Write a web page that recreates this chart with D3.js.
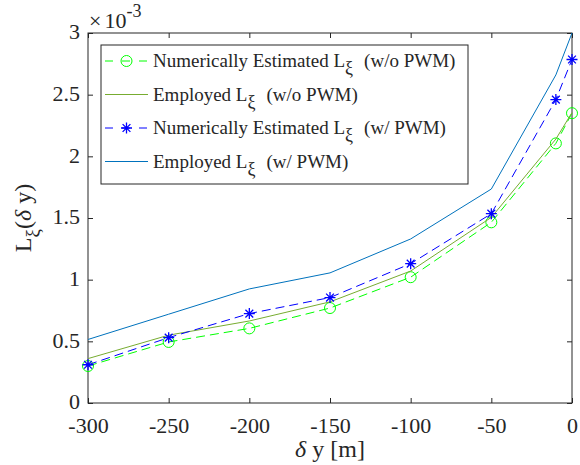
<!DOCTYPE html>
<html>
<head>
<meta charset="utf-8">
<script src="https://cdn.jsdelivr.net/npm/d3@7"></script>
<style>
  body { margin: 0; background: #fff; }
  svg { display: block; font-family: "Liberation Serif", "Times New Roman", serif; }
</style>
</head>
<body>
<svg id="chart" width="580" height="465"></svg>
<script>
// Offset values (m)
const deltaY = [-300, -250, -200, -150, -100, -50, -10, 0];
// L_xi values, in units of 1e-3
const estNoPwm  = [0.30, 0.495, 0.605, 0.77, 1.02, 1.465, 2.105, 2.35];
const empNoPwm  = [0.36, 0.55, 0.665, 0.82, 1.07, 1.505, 2.14, 2.355];
const estPwm    = [0.31, 0.53, 0.725, 0.855, 1.13, 1.535, 2.46, 2.785];
const empPwm    = [0.515, 0.72, 0.925, 1.055, 1.33, 1.735, 2.66, 3.0];
const xTicks = [-300, -250, -200, -150, -100, -50, 0];
const yTicks = [0, 0.5, 1, 1.5, 2, 2.5, 3];

const seriesNames = [
  ["Numerically Estimated L", "(w/o PWM)"],
  ["Employed L", "(w/o PWM)"],
  ["Numerically Estimated L", "(w/ PWM)"],
  ["Employed L", "(w/ PWM)"]
];

const svg = d3.select("#chart");
const m = { left: 88, right: 572, top: 33, bottom: 403 };
const x = d3.scaleLinear().domain([-300, 0]).range([m.left, m.right]);
const y = d3.scaleLinear().domain([0, 3]).range([m.bottom, m.top]);

const axisColor = "#262626";
const tickFont = 22;

// Frame box
svg.append("rect")
  .attr("x", m.left).attr("y", m.top)
  .attr("width", m.right - m.left).attr("height", m.bottom - m.top)
  .attr("fill", "none").attr("stroke", axisColor).attr("stroke-width", 1);

// Axes with inward ticks on all four sides
function styleAxis(g) {
  g.select(".domain").remove();
  g.selectAll(".tick line").attr("stroke", axisColor);
  g.selectAll(".tick text").attr("fill", axisColor)
    .style("font-family", "Liberation Serif").style("font-size", tickFont + "px");
}
const fmtX = d => d < 0 ? "-" + Math.abs(d) : String(d);
svg.append("g").attr("transform", `translate(0,${m.bottom})`)
  .call(d3.axisBottom(x).tickValues(xTicks).tickFormat(fmtX).tickSizeInner(-5).tickSizeOuter(0).tickPadding(14))
  .call(styleAxis);
svg.append("g").attr("transform", `translate(0,${m.top})`)
  .call(d3.axisTop(x).tickValues(xTicks).tickFormat("").tickSizeInner(-5).tickSizeOuter(0))
  .call(styleAxis);
svg.append("g").attr("transform", `translate(${m.left},0)`)
  .call(d3.axisLeft(y).tickValues(yTicks).tickFormat(d3.format("~g")).tickSizeInner(-5).tickSizeOuter(0).tickPadding(8))
  .call(styleAxis)
  .call(g => g.selectAll(".tick text").attr("dy", "0.27em"));
svg.append("g").attr("transform", `translate(${m.right},0)`)
  .call(d3.axisRight(y).tickValues(yTicks).tickFormat("").tickSizeInner(-5).tickSizeOuter(0))
  .call(styleAxis);

// Exponent label
const expo = svg.append("text").attr("x", 89).attr("y", 28)
  .attr("fill", axisColor).style("font-size", "22px");
expo.append("tspan").text("\u00d7");
expo.append("tspan").attr("dx", 3).text("10");
expo.append("tspan").attr("dy", -11).style("font-size", "18px").text("-3");

// Axis labels
const xl = svg.append("text")
  .attr("x", (m.left + m.right) / 2).attr("y", 457)
  .attr("text-anchor", "middle").attr("fill", axisColor).style("font-size", "24px");
xl.append("tspan").style("font-style", "italic").text("\u03b4");
xl.append("tspan").text(" y [m]");

const yl = svg.append("text")
  .attr("transform", `translate(31,218) rotate(-90)`)
  .attr("text-anchor", "middle").attr("fill", axisColor).style("font-size", "24px");
yl.append("tspan").text("L");
yl.append("tspan").attr("dy", 8).style("font-size", "19px").text("\u03be");
yl.append("tspan").attr("dy", -8).text("(");
yl.append("tspan").style("font-style", "italic").text("\u03b4");
yl.append("tspan").text(" y)");

// Series
const plot = svg.append("g");
const toPts = vals => deltaY.map((d, i) => [d, vals[i]]);
const line = d3.line().x(d => x(d[0])).y(d => y(d[1]));

const styles = [
  { vals: estNoPwm, color: "#00ff00", dash: "9,5", marker: "circle", width: 1 },
  { vals: empNoPwm, color: "#77ac30", dash: null, marker: null, width: 1 },
  { vals: estPwm, color: "#0000ff", dash: "9,5", marker: "star", width: 1 },
  { vals: empPwm, color: "#0072bd", dash: null, marker: null, width: 1 }
];

function drawMarker(g, type, cx, cy, color) {
  if (type === "circle") {
    g.append("circle").attr("cx", cx).attr("cy", cy).attr("r", 5.5)
      .attr("fill", "none").attr("stroke", color).attr("stroke-width", 1);
  } else if (type === "star") {
    const r = 5.5, d = r * 0.707;
    const p = `M${cx - r},${cy}H${cx + r}M${cx},${cy - r}V${cy + r}` +
      `M${cx - d},${cy - d}L${cx + d},${cy + d}M${cx - d},${cy + d}L${cx + d},${cy - d}`;
    g.append("path").attr("d", p).attr("stroke", color).attr("stroke-width", 1.3).attr("fill", "none");
  }
}

styles.forEach(s => {
  const pts = toPts(s.vals);
  plot.append("path").datum(pts).attr("d", line)
    .attr("fill", "none").attr("stroke", s.color).attr("stroke-width", s.width)
    .attr("stroke-dasharray", s.dash);
  if (s.marker) pts.forEach(p => drawMarker(plot, s.marker, x(p[0]), y(p[1]), s.color));
});

// Legend
const lg = svg.append("g");
lg.append("rect").attr("x", 101).attr("y", 45).attr("width", 367).attr("height", 139)
  .attr("fill", "#fff").attr("stroke", axisColor).attr("stroke-width", 1);
styles.forEach((s, i) => {
  const cy = 61 + i * 33.5;
  lg.append("line").attr("x1", 105).attr("x2", 148).attr("y1", cy).attr("y2", cy)
    .attr("stroke", s.color).attr("stroke-width", s.width).attr("stroke-dasharray", s.dash ? "8,9" : null);
  if (s.marker) drawMarker(lg, s.marker, 126.5, cy, s.color);
  const t = lg.append("text").attr("x", 153).attr("y", cy + 6)
    .attr("fill", axisColor).style("font-size", "19px");
  t.append("tspan").text(seriesNames[i][0]);
  t.append("tspan").attr("dy", 7).style("font-size", "18px").text("\u03be");
  t.append("tspan").attr("dy", -7).attr("dx", 11).text(seriesNames[i][1]);
});
</script>
</body>
</html>
